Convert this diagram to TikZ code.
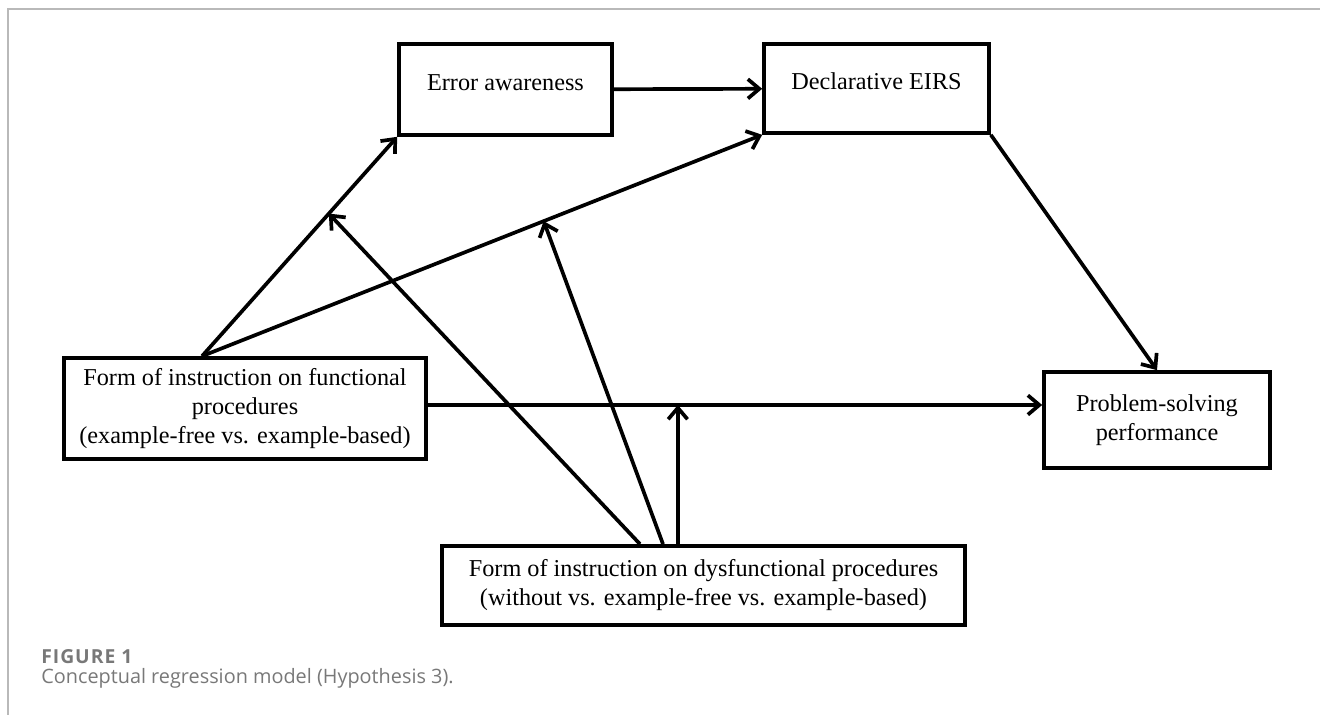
\documentclass[tikz,border=0pt]{standalone}
\usepackage{fontspec}
\setmainfont{Liberation Serif}
\newfontfamily\capfont{Open Sans}
\newfontfamily\figfont[LetterSpace=5]{Open Sans}
\usetikzlibrary{arrows.meta}
\usetikzlibrary{calc}
\usetikzlibrary{positioning}

\definecolor{framegray}{RGB}{185,185,185}
\definecolor{capgray}{RGB}{120,120,120}

\tikzset{
    varbox/.style={draw, line width=2.1pt, inner sep=0pt, align=center,
        font=\fontsize{13.8}{16.5}\selectfont},
    arr/.style={line width=2.1pt, -{Straight Barb[length=6.5pt,width=11pt,line width=2.1pt]}},
}

\begin{document}
\begin{tikzpicture}[x=0.02cm, y=-0.02cm]
    \useasboundingbox (0,0) rectangle (1320,715);
    % thin frame on top and left
    \draw[framegray, line width=0.8pt] (8,715) -- (8,9) -- (1320,9);

    % variables
    \node[varbox, minimum width=4.26cm, minimum height=1.82cm, text height=9.5pt, text depth=8pt]
        (err) at (505.5,89.5) {Error awareness};
    \node[varbox, minimum width=4.5cm, minimum height=1.78cm, text height=9.5pt, text depth=8pt]
        (decl) at (876.5,88.5) {Declarative EIRS};
    \node[varbox, minimum width=7.24cm, minimum height=2.02cm]
        (func) at (245,408.5) {Form of instruction on functional\\procedures\\(example-free vs. example-based)};
    \node[varbox, minimum width=4.52cm, minimum height=1.92cm]
        (prob) at (1157,420) {Problem-solving\\performance};
    \node[varbox, minimum width=10.46cm, minimum height=1.58cm]
        (dys) at (703.5,585.5) {Form of instruction on dysfunctional procedures\\(without vs. example-free vs. example-based)};

    % paths
    \coordinate (fo) at ([xshift=-0.86cm]func.north);
    \coordinate (fe) at ([yshift=0.07cm]func.east);
    \draw[arr] (fo) -- coordinate[pos=0.65] (m1) (err.south west);
    \draw[arr] (fo) -- coordinate[pos=0.61] (m2) (decl.south west);
    \draw[arr] (err) -- (decl);
    \draw[arr] (fe) -- coordinate[pos=0.407] (m3) (fe -| prob.west);
    \draw[arr] (decl.south east) -- (prob.north);

    % moderation by the dysfunctional instruction
    \draw[arr] ([xshift=-1.27cm]dys.north) -- (m1);
    \draw[arr] ([xshift=-0.81cm]dys.north) -- (m2);
    \draw[arr] (m3 |- dys.north) -- (m3);

    % caption
    \node[anchor=west, inner sep=0pt, text=capgray, font=\figfont\bfseries\fontsize{11}{12}\selectfont]
        (fig) at (41,657) {FIGURE 1};
    \node[anchor=west, inner sep=0pt, text=capgray, font=\capfont\fontsize{11.3}{13}\selectfont]
        (cap) at (41,678) {Conceptual regression model (Hypothesis 3).};
\end{tikzpicture}
\end{document}
